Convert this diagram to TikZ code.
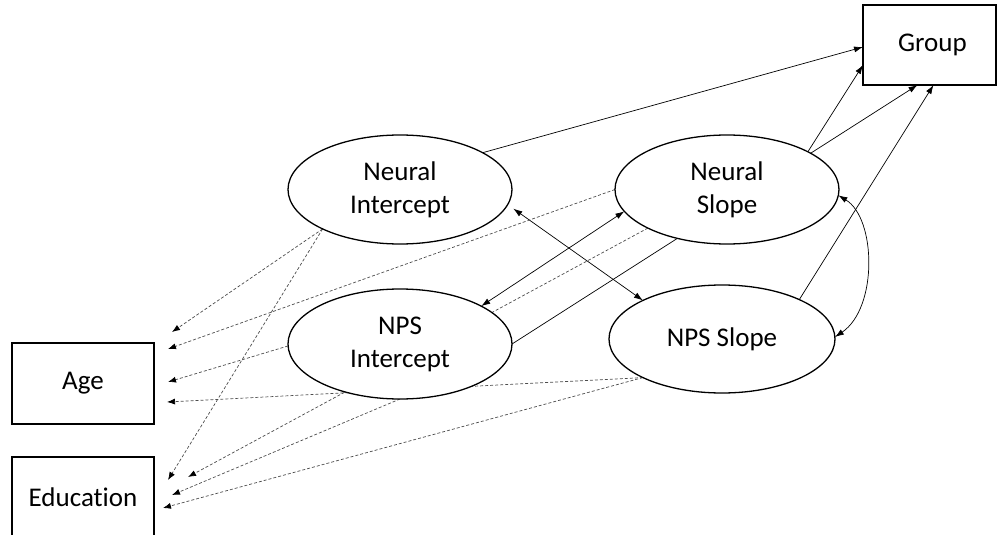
\documentclass[tikz,border=0pt]{standalone}
\usepackage{fontspec}
\setmainfont{Carlito}[Ligatures=NoCommon]
\usetikzlibrary{shapes.geometric,arrows.meta,backgrounds}
\begin{document}
\begin{tikzpicture}[x=1pt,y=-1pt,
  lat/.style={ellipse,draw,line width=1.3pt,fill=white,inner sep=0pt,outer sep=0pt,minimum width=224pt,minimum height=109pt,align=center,font=\fontsize{27}{33}\selectfont},
  obs/.style={rectangle,draw,line width=1.3pt,fill=white,inner sep=0pt,outer sep=0pt,minimum width=142pt,minimum height=81pt,font=\fontsize{27}{33}\selectfont},
  path1/.style={line width=0.7pt,-{Latex[length=9pt,width=6pt]}},
  cov/.style={line width=0.7pt,{Latex[length=9pt,width=6pt]}-{Latex[length=9pt,width=6pt]}},
  dpath/.style={line width=0.7pt,draw=black!70,dash pattern=on 3pt off 2pt,-{Latex[length=8pt,width=6pt,color=black]}},
]
\useasboundingbox (0,0) rectangle (997,535);
\node[obs,minimum width=133pt,minimum height=80pt] (grp) at (929.5,45) {\hspace*{6pt}Group};
\node[lat] (ni) at (400,189.5) {Neural\\Intercept};
\node[lat] (ns) at (727,189.5) {Neural\\Slope};
\node[lat,minimum height=110pt] (npsi) at (400,344) {NPS\\Intercept};
\node[lat,minimum width=226pt,minimum height=108pt] (npss) at (722,339) {NPS Slope};
\node[obs] (age) at (83,383.5) {Age};
\node[obs] (edu) at (83,497.5) {Education};
\begin{scope}[on background layer]
\draw[path1] (ni.24) -- ([yshift=-2pt]grp.west);
\draw[path1] (ns.25) -- ([yshift=-20pt]grp.west);
\draw[path1] (npsi.0) -- ([xshift=-12pt]grp.south);
\draw[path1] (npss.27) -- ([xshift=4pt]grp.south);
\draw[cov,shorten <=7pt] (ni.-8) -- (npss.154);
\draw[cov] (npsi.25) -- (ns.192);
\draw[cov] (ns.-3) .. controls +(38,23) and +(43,-29) .. (npss.1);
\draw[dpath] (ni.-153) -- ([xshift=18pt,yshift=11pt]age.north east);
\draw[dpath] (ns.180) -- ([xshift=14pt,yshift=-6pt]age.north east);
\draw[dpath] (npsi.181) -- ([xshift=14pt,yshift=1.5pt]age.east);
\draw[dpath] (npss.206) -- ([xshift=13pt,yshift=-18.5pt]age.east);
\draw[dpath] (ni.-153) -- ([xshift=14pt,yshift=-23pt]edu.north east);
\draw[dpath] (ns.206) -- ([xshift=34pt,yshift=-20pt]edu.north east);
\draw[dpath] (npsi.south) -- ([xshift=18pt,yshift=-38pt]edu.north east);
\draw[dpath] (npss.206) -- ([xshift=9pt,yshift=-51pt]edu.north east);
\end{scope}
\end{tikzpicture}
\end{document}
